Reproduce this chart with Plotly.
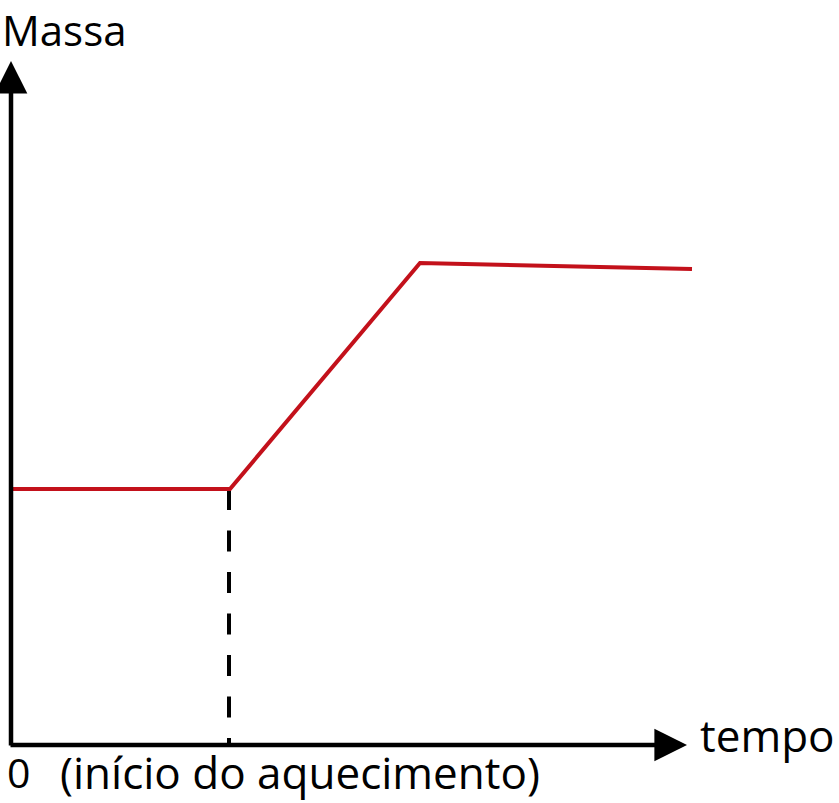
import plotly.graph_objects as go

# values (arbitrary units, 1 unit = 100 px)
tempo = [0.0, 2.19, 4.09, 6.81]
massa = [2.56, 2.56, 4.82, 4.76]
inicio_aquecimento = 2.18
tempo_max = 6.76
massa_max = 6.84

W, H = 839, 803
x_range = [-0.11, -0.11 + W / 100]
y_range = [7.45 - H / 100, 7.45]

fig = go.Figure()

# dashed marker for the start of heating
fig.add_trace(go.Scatter(
    x=[inicio_aquecimento, inicio_aquecimento],
    y=[massa[0], 0],
    mode="lines",
    line=dict(color="black", width=4, dash="21px,20.5px"),
    hoverinfo="skip",
))

# mass curve
fig.add_trace(go.Scatter(
    x=tempo,
    y=massa,
    mode="lines",
    line=dict(color="#C3111B", width=4),
    hoverinfo="skip",
))

arrow = dict(showarrow=True, arrowhead=2, arrowsize=1.45, arrowwidth=4.5,
             arrowcolor="black", axref="x", ayref="y", xref="x", yref="y", text="")
# x axis arrow
fig.add_annotation(x=tempo_max, y=0, ax=-0.02, ay=0, **arrow)
# y axis arrow
fig.add_annotation(x=0, y=massa_max, ax=0, ay=-0.02, **arrow)

font = dict(family="Open Sans", color="black")
fig.add_annotation(text="Massa", xref="paper", yref="paper", x=0 / W, y=1 - 29 / H,
                   xanchor="left", yanchor="middle", showarrow=False,
                   font=dict(size=42, **font))
fig.add_annotation(text="tempo", xref="paper", yref="paper", x=698 / W, y=1 - 735 / H,
                   xanchor="left", yanchor="middle", showarrow=False,
                   font=dict(size=44, **font))
fig.add_annotation(text="0", xref="paper", yref="paper", x=5 / W, y=1 - 772 / H,
                   xanchor="left", yanchor="middle", showarrow=False,
                   font=dict(size=41, **font))
fig.add_annotation(text="(início do aquecimento)", xref="paper", yref="paper", x=58 / W, y=1 - 772 / H,
                   xanchor="left", yanchor="middle", showarrow=False,
                   font=dict(size=44, **font))

fig.update_layout(
    width=W,
    height=H,
    margin=dict(l=0, r=0, t=0, b=0),
    paper_bgcolor="white",
    plot_bgcolor="white",
    showlegend=False,
    xaxis=dict(range=x_range, visible=False, fixedrange=True),
    yaxis=dict(range=y_range, visible=False, fixedrange=True),
)

# drop the page's default body margin so the figure sits at the window corner
fig.write_html("out.html", config={"displayModeBar": False},
               post_script="document.body.style.margin = '0';")
